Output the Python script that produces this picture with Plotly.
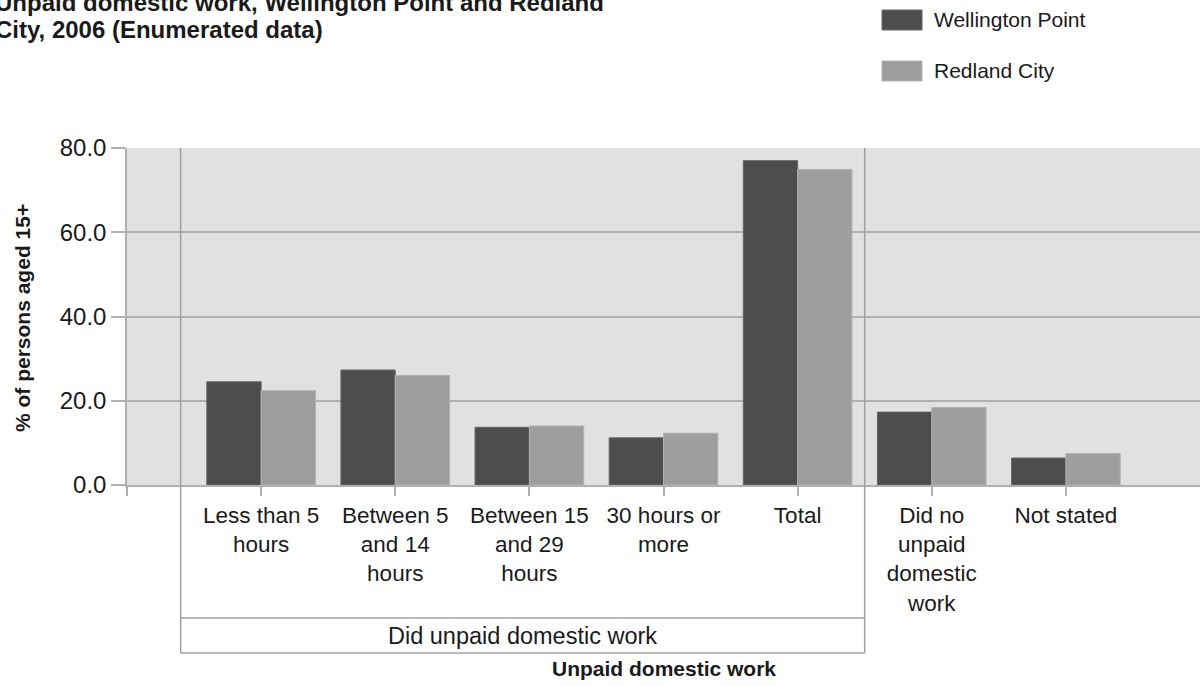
import plotly.graph_objects as go

# data
categories = [
    "Less than 5<br>hours",
    "Between 5<br>and 14<br>hours",
    "Between 15<br>and 29<br>hours",
    "30 hours or<br>more",
    "Total",
    "Did no<br>unpaid<br>domestic<br>work",
    "Not stated",
]
wellington_point = [24.5, 27.3, 13.7, 11.2, 77.0, 17.3, 6.4]
redland_city = [22.4, 26.0, 14.0, 12.3, 74.9, 18.4, 7.5]
series_names = ["Wellington Point", "Redland City"]
series_colors = ["#4d4d4d", "#9e9e9e"]
edge_colors = ["#666666", "#b2b2b2"]
y_ticks = [0, 20, 40, 60, 80]

title_lines = ["Unpaid domestic work, Wellington Point and Redland",
               "City, 2006 (Enumerated data)"]
group_label = "Did unpaid domestic work"
x_title = "Unpaid domestic work"
y_title = "% of persons aged 15+"

W, H = 1200, 686
PLOT_L, PLOT_T, PLOT_B = 127, 148, 485     # pixels of the plot area
ML, MR, MT, MB = PLOT_L, 0, PLOT_T, H - PLOT_B
PW, PH = W - ML - MR, H - MT - MB

def px_x(px):
    return (px - PLOT_L) / PW

def px_y(py):
    return (PLOT_B - py) / PH

FONT = "Liberation Sans, Arial, sans-serif"
TXT = "#1a1a1a"
GRID = "#b0b0b0"

xs = list(range(1, len(categories) + 1))

fig = go.Figure()
for name, vals, col, edge in zip(series_names, [wellington_point, redland_city], series_colors, edge_colors):
    fig.add_trace(go.Bar(name=name, x=xs, y=vals,
                         marker=dict(color=col, line=dict(color=edge, width=1)),
                         showlegend=False))

# separators of the "did unpaid domestic work" group
grp_left, grp_right = 0.4, 5.5
line_style = dict(color="#a0a0a0", width=1.5)
for xv in [grp_left, grp_right]:
    fig.add_shape(type="line", xref="x", yref="paper", x0=xv, x1=xv,
                  y0=1, y1=px_y(653), line=line_style, layer="above")
for py in [618, 653]:
    fig.add_shape(type="line", xref="x", yref="paper", x0=grp_left, x1=grp_right,
                  y0=px_y(py), y1=px_y(py), line=line_style, layer="above")

annotations = [
    dict(text=group_label, x=(grp_left + grp_right) / 2, xref="x", y=px_y(636), yref="paper",
         xanchor="center", yanchor="middle", showarrow=False, font=dict(size=23.5, color=TXT)),
    dict(text="<b>%s</b>" % x_title, x=0.5, xref="paper", y=px_y(668), yref="paper",
         xanchor="center", yanchor="middle", showarrow=False, font=dict(size=21, color=TXT)),
    dict(text="<b>%s</b>" % y_title, x=px_x(22), xref="paper", y=px_y(318), yref="paper",
         xanchor="center", yanchor="middle", textangle=-90, showarrow=False,
         font=dict(size=21, color=TXT)),
]
for i, line in enumerate(title_lines):
    annotations.append(dict(text="<b>%s</b>" % line, x=px_x(-7), xref="paper",
                            y=px_y(3 + 27 * i), yref="paper", xanchor="left", yanchor="middle",
                            showarrow=False, font=dict(size=24, color=TXT)))

# legend drawn by hand to get the wide swatches
for i, (name, col, edge) in enumerate(zip(series_names, series_colors, edge_colors)):
    top = 10 + 51 * i
    fig.add_shape(type="rect", xref="paper", yref="paper",
                  x0=px_x(882), x1=px_x(922), y0=px_y(top), y1=px_y(top + 20),
                  fillcolor=col, line=dict(color=edge, width=1))
    annotations.append(dict(text=name, x=px_x(932), xref="paper", y=px_y(top + 9), yref="paper",
                            xanchor="left", yanchor="middle", showarrow=False,
                            font=dict(size=21, color=TXT)))

fig.update_layout(
    width=W, height=H,
    margin=dict(l=ML, r=MR, t=MT, b=MB),
    paper_bgcolor="white", plot_bgcolor="#e1e1e1",
    font=dict(family=FONT, color=TXT),
    barmode="group", bargap=0.19, bargroupgap=0,
    annotations=annotations,
    xaxis=dict(range=[0, 8], tickvals=[0] + xs, ticktext=[""] + categories,
               ticks="outside", ticklen=9, tickcolor=GRID, tickwidth=1.5,
               showgrid=False, showline=True, linecolor=GRID, linewidth=1.5,
               tickfont=dict(size=22.5, color=TXT), zeroline=False),
    yaxis=dict(range=[0, 80], tickvals=y_ticks, tickformat=".1f",
               ticks="outside", ticklen=14, tickcolor=GRID, tickwidth=1.5,
               showgrid=True, gridcolor=GRID, gridwidth=1.5,
               showline=True, linecolor=GRID, linewidth=1.5, zeroline=False,
               tickfont=dict(size=24, color=TXT)),
)

# drop the page's default body margin so the figure fills the window exactly
fig.write_html("out.html", config={"displayModeBar": False},
               post_script="document.body.style.margin='0px';")
